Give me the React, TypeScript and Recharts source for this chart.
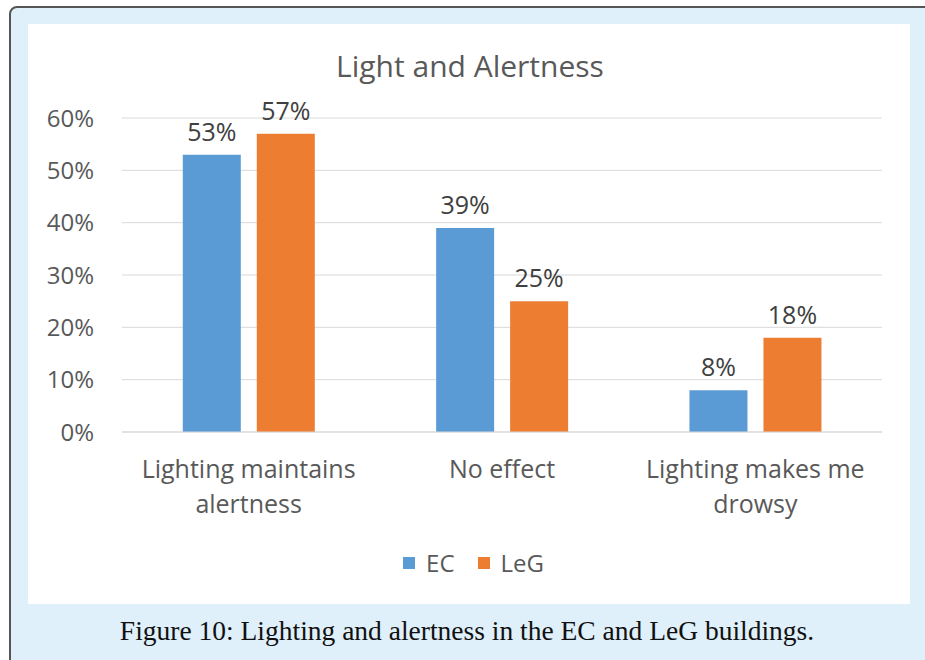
import { BarChart, Bar, XAxis, YAxis, CartesianGrid, Legend, LabelList } from 'recharts';

const categories = ['Lighting maintains alertness', 'No effect', 'Lighting makes me drowsy'];
// how each category label wraps under the axis
const categoryLines = [['Lighting maintains', 'alertness'], ['No effect'], ['Lighting makes me', 'drowsy']];
const ecValues = [0.53, 0.39, 0.08];
const legValues = [0.57, 0.25, 0.18];
const yTicks = [0, 0.1, 0.2, 0.3, 0.4, 0.5, 0.6];

const data = categories.map((name, i) => ({ name, EC: ecValues[i], LeG: legValues[i] }));

const FONT = '"Open Sans", "Noto Sans", sans-serif';
const TEXT = '#595959';
const BLUE = '#5B9BD5';
const ORANGE = '#ED7D31';

const pct = (v: any) => `${Math.round(Number(v) * 100)}%`;

const CategoryTick = (props: any) => {
    const { x, y, payload } = props;
    const lines = categoryLines[categories.indexOf(payload.value)] || [payload.value];
    return (
        <text x={x} y={y} textAnchor="middle" fill={TEXT} fontSize={25} fontFamily={FONT}>
            {lines.map((line, i) => (
                <tspan key={i} x={x} dy={i === 0 ? 17 : 35}>
                    {line}
                </tspan>
            ))}
        </text>
    );
};

const LegendBox = () => (
    <div style={{ display: 'flex', justifyContent: 'center', alignItems: 'center', fontFamily: FONT, fontSize: 24, color: TEXT, paddingLeft: 60, marginTop: -4, lineHeight: '30px' }}>
        {[
            { name: 'EC', color: BLUE },
            { name: 'LeG', color: ORANGE },
        ].map(item => (
            <span key={item.name} style={{ display: 'flex', alignItems: 'center', marginRight: 23 }}>
                <span style={{ width: 12, height: 12, background: item.color, marginRight: 11, display: 'inline-block' }} />
                {item.name}
            </span>
        ))}
    </div>
);

export default function App() {
    return (
        <div style={{ position: 'fixed', left: 0, top: 0, width: 925, height: 660, overflow: 'hidden', background: '#fff' }}>
            <div
                style={{
                    position: 'absolute',
                    left: 9,
                    top: 6,
                    width: 960,
                    height: 700,
                    border: '2px solid #555',
                    borderRadius: 8,
                    background: '#dff0fa',
                }}
            />
            <div style={{ position: 'absolute', left: 28, top: 24, width: 882, height: 580, background: '#fff' }}>
                <BarChart
                    width={882}
                    height={580}
                    data={data}
                    margin={{ top: 94, right: 28, bottom: 17, left: 0 }}
                    barGap={16}
                    barCategoryGap="24%"
                >
                    <CartesianGrid vertical={false} stroke="#d9d9d9" />
                    <XAxis
                        dataKey="name"
                        axisLine={{ stroke: '#d9d9d9' }}
                        tickLine={false}
                        tick={<CategoryTick />}
                        height={120}
                        tickMargin={23}
                        interval={0}
                    />
                    <YAxis
                        domain={[0, 0.6]}
                        ticks={yTicks}
                        tickFormatter={pct}
                        axisLine={false}
                        tickLine={false}
                        width={94}
                        tickMargin={22}
                        tick={{ fill: TEXT, fontSize: 24, fontFamily: FONT }}
                    />
                    <Legend verticalAlign="bottom" height={35} content={<LegendBox />} />
                    <Bar dataKey="EC" fill={BLUE} isAnimationActive={false}>
                        <LabelList dataKey="EC" position="top" offset={14} formatter={pct} fill="#404040" fontSize={25} fontFamily={FONT} />
                    </Bar>
                    <Bar dataKey="LeG" fill={ORANGE} isAnimationActive={false}>
                        <LabelList dataKey="LeG" position="top" offset={14} formatter={pct} fill="#404040" fontSize={25} fontFamily={FONT} />
                    </Bar>
                </BarChart>
            </div>
            <div
                style={{
                    position: 'absolute',
                    left: 0,
                    width: 940,
                    top: 46,
                    textAlign: 'center',
                    fontFamily: FONT,
                    fontSize: 30,
                    color: TEXT,
                    lineHeight: '40px',
                }}
            >
                Light and Alertness
            </div>
            <div
                style={{
                    position: 'absolute',
                    left: 0,
                    width: 934,
                    top: 614,
                    textAlign: 'center',
                    fontFamily: '"Liberation Serif", serif',
                    fontSize: 27.5,
                    color: '#111',
                    lineHeight: '34px',
                }}
            >
                Figure 10: Lighting and alertness in the EC and LeG buildings.
            </div>
        </div>
    );
}
